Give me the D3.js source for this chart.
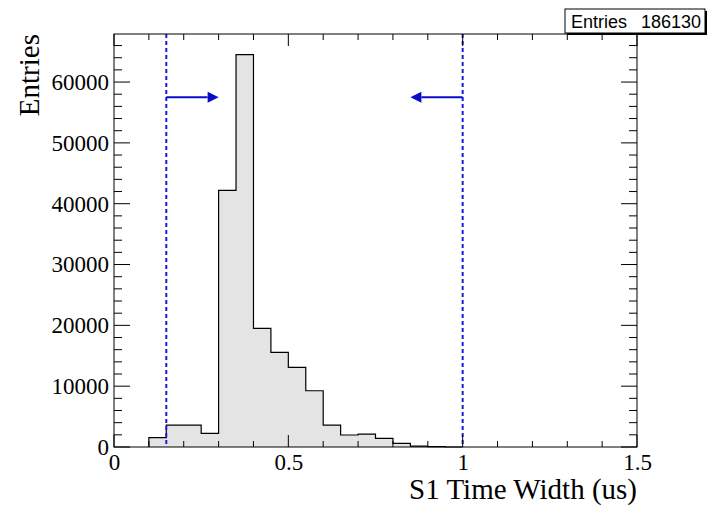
<!DOCTYPE html>
<html>
<head>
<meta charset="utf-8">
<script src="https://cdn.jsdelivr.net/npm/d3@7"></script>
<style>
  html, body { margin: 0; padding: 0; background: #fff; }
  svg { display: block; }
</style>
</head>
<body>
<svg id="chart" width="710" height="510"></svg>
<script>
// Histogram of S1 time width, bin width 0.05 us
const binEdges = [0.10, 0.15, 0.20, 0.25, 0.30, 0.35, 0.40, 0.45, 0.50, 0.55,
                  0.60, 0.65, 0.70, 0.75, 0.80, 0.85, 0.90, 0.95, 1.00];
const binCounts = [1550, 3600, 3600, 2250, 42200, 64500, 19500, 15550, 13100,
                   9250, 3600, 1970, 2130, 1430, 600, 160, 50, 0];
const totalEntries = 186130;

// Selection cut window and arrow markers
const cutLines = [0.15, 1.0];
const arrows = [
  { from: 0.15, to: 0.30, y: 57500 },
  { from: 1.00, to: 0.85, y: 57500 }
];

const xMajorTicks = [0, 0.5, 1, 1.5];
const xTickLabels = ["0", "0.5", "1", "1.5"];
const yMajorTicks = [0, 10000, 20000, 30000, 40000, 50000, 60000];
const yTickLabels = ["0", "10000", "20000", "30000", "40000", "50000", "60000"];

const xTitle = "S1 Time Width (us)";
const yTitle = "Entries";

const svg = d3.select("#chart");
const frame = { left: 114, right: 637, top: 34, bottom: 447 };

const x = d3.scaleLinear().domain([0, 1.5]).range([frame.left, frame.right]);
const y = d3.scaleLinear().domain([0, 67900]).range([frame.bottom, frame.top]);

const serif = "'Liberation Serif', 'Times New Roman', serif";
const sans = "'Liberation Sans', Arial, Helvetica, sans-serif";

// Histogram: filled step outline
const bins = binCounts.map((c, i) => ({ x0: binEdges[i], x1: binEdges[i + 1], c }));
const pts = [[x(bins[0].x0), y(0)]];
bins.forEach(b => { pts.push([x(b.x0), y(b.c)]); pts.push([x(b.x1), y(b.c)]); });
pts.push([x(bins[bins.length - 1].x1), y(0)]);

svg.append("path")
  .attr("d", d3.line()(pts) + "Z")
  .attr("fill", "#e4e4e4")
  .attr("stroke", "none");
svg.append("path")
  .attr("d", d3.line()(pts))
  .attr("fill", "none")
  .attr("stroke", "#000")
  .attr("stroke-width", 1.2);

// Cut lines
svg.selectAll("line.cut").data(cutLines).join("line")
  .attr("class", "cut")
  .attr("x1", d => x(d)).attr("x2", d => x(d))
  .attr("y1", frame.top).attr("y2", frame.bottom)
  .attr("stroke", "#1a1ae0")
  .attr("stroke-width", 2)
  .attr("stroke-dasharray", "4,3");

// Arrows
arrows.forEach(a => {
  const dir = Math.sign(a.to - a.from);
  const xt = x(a.to), xf = x(a.from), yy = y(a.y);
  const headLen = 11, headHalf = 5.5;
  svg.append("line")
    .attr("x1", xf).attr("x2", xt - dir * headLen)
    .attr("y1", yy).attr("y2", yy)
    .attr("stroke", "#0b0bcc").attr("stroke-width", 2.2);
  svg.append("path")
    .attr("d", `M${xt},${yy} L${xt - dir * headLen},${yy - headHalf} L${xt - dir * headLen},${yy + headHalf} Z`)
    .attr("fill", "#0b0bcc");
});

// Frame
svg.append("rect")
  .attr("x", frame.left).attr("y", frame.top)
  .attr("width", frame.right - frame.left).attr("height", frame.bottom - frame.top)
  .attr("fill", "none").attr("stroke", "#000").attr("stroke-width", 1);

// Ticks (inward on all four sides)
const xMinor = d3.range(0, 1.5001, 0.1).filter(v => !xMajorTicks.some(m => Math.abs(m - v) < 1e-6));
const yMinor = d3.range(0, 67900, 2000).filter(v => v % 10000 !== 0);

function ticksX(vals, len) {
  vals.forEach(v => {
    svg.append("line").attr("x1", x(v)).attr("x2", x(v)).attr("y1", frame.bottom).attr("y2", frame.bottom - len)
      .attr("stroke", "#000").attr("stroke-width", 1);
    svg.append("line").attr("x1", x(v)).attr("x2", x(v)).attr("y1", frame.top).attr("y2", frame.top + len)
      .attr("stroke", "#000").attr("stroke-width", 1);
  });
}
function ticksY(vals, len) {
  vals.forEach(v => {
    svg.append("line").attr("x1", frame.left).attr("x2", frame.left + len).attr("y1", y(v)).attr("y2", y(v))
      .attr("stroke", "#000").attr("stroke-width", 1);
    svg.append("line").attr("x1", frame.right).attr("x2", frame.right - len).attr("y1", y(v)).attr("y2", y(v))
      .attr("stroke", "#000").attr("stroke-width", 1);
  });
}
ticksX(xMajorTicks, 12);
ticksX(xMinor, 6);
ticksY(yMajorTicks, 16);
ticksY(yMinor, 8);

// Tick labels via d3 axes (tick lines hidden, labels only)
const xAxis = d3.axisBottom(x).tickValues(xMajorTicks)
  .tickFormat((d, i) => xTickLabels[i]).tickSize(0).tickPadding(7);
const gx = svg.append("g").attr("transform", `translate(0,${frame.bottom})`).call(xAxis);
gx.select(".domain").remove();
gx.selectAll("text").attr("font-family", serif).attr("font-size", 23).attr("fill", "#000");

const yAxis = d3.axisLeft(y).tickValues(yMajorTicks)
  .tickFormat((d, i) => yTickLabels[i]).tickSize(0).tickPadding(5);
const gy = svg.append("g").attr("transform", `translate(${frame.left},0)`).call(yAxis);
gy.select(".domain").remove();
gy.selectAll("text").attr("font-family", serif).attr("font-size", 23).attr("fill", "#000");

// Axis titles
svg.append("text")
  .attr("x", frame.right).attr("y", 499)
  .attr("text-anchor", "end")
  .attr("font-family", serif).attr("font-size", 29)
  .text(xTitle);
svg.append("text")
  .attr("transform", `translate(39,${frame.top}) rotate(-90)`)
  .attr("text-anchor", "end")
  .attr("font-family", serif).attr("font-size", 29)
  .text(yTitle);

// Statistics box
const sb = { x: 565, y: 9, w: 140, h: 24 };
svg.append("rect")
  .attr("x", sb.x + 2).attr("y", sb.y + 2).attr("width", sb.w).attr("height", sb.h)
  .attr("fill", "#000");
svg.append("rect")
  .attr("x", sb.x).attr("y", sb.y).attr("width", sb.w).attr("height", sb.h)
  .attr("fill", "#fff").attr("stroke", "#000").attr("stroke-width", 1);
svg.append("text")
  .attr("x", sb.x + 6).attr("y", sb.y + 19)
  .attr("font-family", sans).attr("font-size", 18)
  .text("Entries");
svg.append("text")
  .attr("x", sb.x + sb.w - 4).attr("y", sb.y + 19)
  .attr("text-anchor", "end")
  .attr("font-family", sans).attr("font-size", 18)
  .text(d3.format("d")(totalEntries));
</script>
</body>
</html>
